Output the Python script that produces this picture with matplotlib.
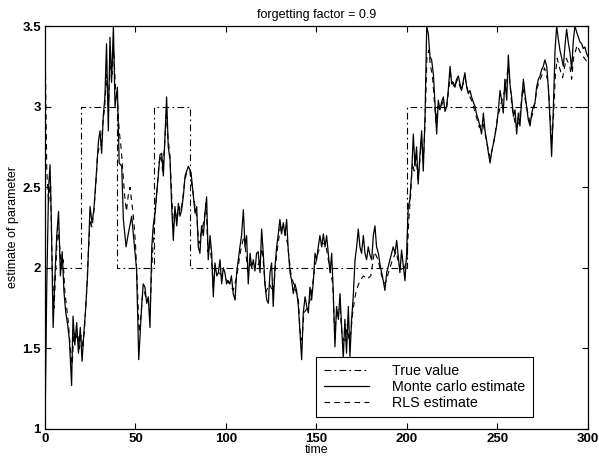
import matplotlib
matplotlib.use("Agg")
import matplotlib.pyplot as plt

plt.rcParams['font.family'] = ['Liberation Sans', 'DejaVu Sans']

# True parameter (step function)
true_t = [0, 20, 20, 40, 40, 60, 60, 80, 80, 200, 200, 300]
true_v = [2, 2, 3, 3, 2, 2, 3, 3, 2, 2, 3, 3]

# Monte carlo estimate
mc_t = [0, 1, 2, 2.8, 3.5, 4.5, 5.5, 6.5, 7.5, 8.5, 9.5, 10.5, 11.5, 12.5, 13.5, 14.7, 15.5, 16.5,
        17.5, 18.5, 19.5, 20.5, 21.5, 22.5, 23.5, 24.9, 26, 27, 28.5, 29.5, 30.4, 31.3, 32.2, 33.1,
        34, 35, 35.9, 36.8, 37.8, 38.7, 40, 41, 42.4, 43.3, 44.8, 46, 47.9, 48.8, 50.6, 51.8, 53.4,
        54.3, 55.2, 56.2, 57.1, 58, 59, 59.8, 60.8, 61.7, 62.6, 63.5, 64.5, 65.4, 66.3, 67.2, 68.1,
        69.1, 70, 70.9, 71.8, 72.8, 73.7, 74.6, 75.5, 76.5, 77.4, 78.3, 79.2, 80.7, 82, 82.9, 83.8,
        84.7, 85.6, 86.5, 87.5, 88.4, 89.3, 90.2, 91.2, 92.1, 93, 93.9, 94.9, 95.8, 96.7, 97.6, 98.5,
        99.4, 100.3, 101.3, 102.2, 103, 104, 105, 105.9, 106.8, 107.7, 108.6, 109.6, 110.5, 111.4,
        112.3, 113.3, 114.2, 115.1, 116, 116.9, 117.8, 118.8, 119.7, 120.6, 121.5, 122.5, 123.4,
        124.3, 125.2, 126.1, 127.1, 128, 128.9, 129.8, 130.7, 131.7, 132.6, 133.5, 134.4, 135.4,
        136.3, 137.2, 138.1, 139, 140, 140.9, 141.8, 142.7, 143.7, 144.6, 145.5, 146.4, 147.3, 148.3,
        149.2, 150.1, 151, 151.9, 152.9, 153.8, 154.7, 155.6, 156.5, 157.5, 158.4, 159.3, 160.2,
        161.1, 162.1, 163, 163.9, 164.8, 165.7, 166.6, 167.6, 168.5, 169.4, 170.3, 171.3, 172.2,
        173.1, 174, 174.9, 175.9, 176.8, 177.7, 178.6, 179.5, 180.5, 181.4, 182.3, 183.2, 184.2,
        185.1, 186, 186.9, 187.8, 188.8, 189.7, 190.6, 191.5, 192.4, 193.4, 194.3, 195.2, 196.1,
        197, 198, 198.9, 199.8, 200.7, 201.6, 202.6, 203.5, 204.4, 205.3, 206.2, 207.2, 208.1, 209,
        210, 210.9, 211.8, 212.7, 213.6, 214.6, 215.5, 216.4, 217.3, 218.2, 219.2, 220.1, 221, 221.9,
        222.8, 223.8, 224.7, 225.6, 226.5, 227.4, 228.4, 229.3, 230.2, 231.1, 232, 233, 233.9, 234.8,
        235.7, 236.6, 237.6, 238.5, 239.4, 240.3, 241.2, 242.2, 243.1, 244, 244.9, 245.9, 246.8,
        247.7, 248.6, 249.5, 250.5, 251.4, 252.3, 253.2, 254.1, 255.1, 256, 256.9, 257.8, 258.8,
        259.7, 260.6, 261.5, 262.4, 263.4, 264.3, 265.2, 266.1, 267, 268, 268.9, 269.8, 270.7, 271.6,
        272.6, 273.5, 274.4, 275.3, 276.2, 277.2, 278.1, 279, 279.9, 280.9, 281.8, 282.7, 283.6,
        284.5, 285.5, 286.4, 287.3, 288.2, 289.1, 290.1, 291, 291.9, 292.8, 293.8, 294.7, 295.6,
        296.5, 297.4, 298.3, 299.2, 300]
mc_v = [1.0, 1.9, 2.5, 2.64, 2.3, 1.63, 1.95, 2.2, 2.35, 1.95, 2.1, 1.85, 1.72, 1.65, 1.55, 1.27, 1.70,
        1.52, 1.66, 1.47, 1.63, 1.42, 1.6, 1.75, 1.95, 2.38, 2.28, 2.36, 2.6, 2.78, 2.85, 2.71, 2.94,
        3.06, 3.39, 2.85, 3.43, 3.15, 3.5, 3.0, 3.12, 2.65, 2.63, 2.3, 2.13, 2.21, 2.32, 2.21, 1.99,
        1.43, 1.76, 1.9, 1.88, 1.78, 1.82, 1.63, 2.13, 2.26, 2.34, 2.46, 2.57, 2.7, 2.71, 2.57, 2.81,
        3.06, 2.75, 2.67, 2.38, 2.17, 2.38, 2.26, 2.40, 2.32, 2.36, 2.45, 2.57, 2.6, 2.63, 2.59, 2.44,
        2.34, 2.38, 2.13, 2.09, 2.26, 2.2, 2.34, 2.44, 2.05, 2.2, 2.09, 1.82, 2.03, 1.95, 1.97, 2.05,
        1.9, 2.0, 1.97, 1.9, 1.92, 1.9, 1.95, 1.84, 1.8, 1.97, 2.05, 2.13, 2.2, 2.36, 2.13, 2.2, 1.9,
        2.09, 2.0, 2.05, 1.98, 2.09, 2.1, 1.97, 2.24, 2.09, 1.9, 1.8, 1.78, 1.97, 2.03, 1.76, 2.01,
        2.13, 2.21, 2.3, 2.21, 2.28, 2.2, 2.3, 2.11, 1.97, 1.92, 1.84, 1.9, 1.86, 1.76, 1.6, 1.43,
        1.72, 1.82, 1.76, 1.72, 1.88, 1.8, 1.92, 2.09, 2.05, 2.13, 2.2, 2.13, 2.21, 2.13, 2.2, 2.09,
        1.97, 2.09, 1.84, 1.51, 1.76, 1.68, 1.84, 1.63, 1.44, 1.68, 1.47, 1.76, 1.45, 1.68, 1.82,
        2.05, 2.13, 2.24, 2.13, 2.09, 2.2, 2.09, 2.05, 2.13, 2.08, 2.05, 2.2, 2.26, 2.13, 2.09, 2.02,
        1.97, 1.92, 1.86, 1.97, 2.01, 2.05, 2.09, 2.13, 2.09, 2.17, 2.07, 1.97, 2.11, 2.01, 1.92,
        2.09, 2.38, 2.42, 2.59, 2.83, 2.63, 2.75, 2.52, 2.71, 2.85, 2.6, 2.95, 3.5, 3.45, 3.31, 3.29,
        3.2, 3.02, 2.83, 3.04, 2.98, 3.03, 3.06, 2.97, 3.0, 3.1, 3.25, 3.14, 3.15, 3.12, 3.17, 3.19,
        3.14, 3.1, 3.16, 3.21, 3.12, 3.08, 3.1, 3.06, 3.03, 3.0, 2.95, 2.92, 2.88, 2.83, 2.96, 2.85,
        2.79, 2.72, 2.65, 2.72, 2.77, 2.82, 2.88, 2.98, 3.1, 3.04, 2.96, 3.17, 3.04, 3.32, 3.14, 3.06,
        2.94, 2.98, 2.83, 2.96, 2.88, 3.04, 3.17, 3.08, 3.0, 2.92, 2.88, 2.96, 3.0, 3.02, 3.12, 3.17,
        3.19, 3.23, 3.25, 3.29, 3.25, 3.12, 2.92, 2.69, 3.0, 3.35, 3.5, 3.42, 3.35, 3.3, 3.25, 3.38,
        3.48, 3.4, 3.33, 3.23, 3.41, 3.5, 3.46, 3.43, 3.4, 3.39, 3.36, 3.37, 3.33, 3.31]

# RLS estimate
rls_t = [0, 1, 2, 3, 4, 5, 6, 7, 8, 9, 10, 11, 12, 13, 14, 15, 16, 17, 18, 19, 20, 21, 22, 23, 24,
         25, 26, 27, 28, 29, 30, 31, 32, 33, 34, 35, 36, 37, 38, 39, 40, 41, 42, 43, 44, 45, 46, 47,
         48, 49, 50, 51, 52, 53, 54, 55, 56, 57, 58, 59, 60, 61, 62, 63, 64, 65, 66, 67, 68, 69, 70,
         71, 72, 73, 74, 75, 76, 77, 78, 79, 80, 82, 84, 85, 86, 88, 89, 90, 91, 92, 93, 94, 96, 98,
         100, 102, 104, 106, 108, 110, 112, 114, 116, 118, 120, 122, 124, 126, 128, 130, 132, 134,
         136, 138, 140, 141, 142, 143, 145, 147, 149, 151, 153, 155, 157, 159, 160, 161, 163, 164,
         165, 166, 167, 168, 169, 170, 171, 172, 174, 176, 178, 180, 182, 184, 186, 188, 190, 192,
         194, 196, 198, 200, 201, 202, 203, 204, 205, 206, 207, 208, 209, 210, 211, 212, 213, 214,
         215, 216, 217, 218, 220, 222, 224, 226, 228, 230, 232, 234, 236, 238, 240, 242, 244, 246,
         248, 250, 252, 254, 256, 258, 260, 262, 264, 266, 268, 270, 272, 274, 276, 278, 279, 280,
         281, 282, 283, 284, 286, 288, 290, 291, 292, 294, 296, 298, 300]
rls_v = [3.45, 2.6, 2.4, 2.55, 2.0, 1.75, 2.0, 2.25, 2.15, 2.0, 2.05, 1.85, 1.75, 1.65, 1.5, 1.4,
         1.6, 1.55, 1.6, 1.5, 1.58, 1.5, 1.65, 1.85, 2.1, 2.3, 2.25, 2.35, 2.5, 2.7, 2.75, 2.75, 2.9,
         3.0, 3.2, 3.0, 3.25, 3.2, 3.35, 3.1, 3.05, 2.85, 2.75, 2.6, 2.45, 2.35, 2.45, 2.5, 2.4, 2.3,
         2.15, 1.9, 1.6, 1.7, 1.85, 1.85, 1.8, 1.8, 1.7, 2.0, 2.2, 2.35, 2.5, 2.65, 2.7, 2.6, 2.75,
         2.95, 2.8, 2.7, 2.45, 2.25, 2.35, 2.3, 2.38, 2.35, 2.42, 2.52, 2.58, 2.6, 2.6, 2.45, 2.3,
         2.15, 2.2, 2.3, 2.4, 2.1, 2.15, 2.05, 1.88, 2.0, 1.97, 1.95, 1.93, 1.9, 1.86, 1.95, 2.1, 2.2,
         1.98, 2.03, 2.03, 2.02, 2.12, 1.85, 1.9, 1.85, 2.08, 2.25, 2.25, 2.15, 1.95, 1.88, 1.8, 1.6,
         1.55, 1.72, 1.75, 1.82, 2.0, 2.1, 2.15, 2.15, 2.02, 1.9, 1.6, 1.7, 1.75, 1.6, 1.55, 1.55,
         1.65, 1.55, 1.6, 1.72, 1.8, 1.86, 1.92, 1.95, 1.93, 1.95, 2.1, 2.05, 1.95, 1.9, 1.98, 2.05,
         2.1, 2.0, 1.98, 2.05, 2.3, 2.45, 2.65, 2.6, 2.7, 2.55, 2.65, 2.8, 2.65, 2.9, 3.3, 3.35, 3.25,
         3.2, 3.05, 2.9, 3.0, 2.98, 3.03, 3.0, 3.2, 3.12, 3.17, 3.1, 3.18, 3.08, 3.03, 2.95, 2.87, 2.9,
         2.78, 2.68, 2.78, 2.93, 3.02, 3.1, 3.25, 3.0, 2.88, 2.9, 3.12, 3.0, 2.9, 2.98, 3.12, 3.18,
         3.24, 3.15, 2.95, 2.78, 2.95, 3.2, 3.3, 3.25, 3.18, 3.3, 3.25, 3.17, 3.3, 3.38, 3.33, 3.3,
         3.27]

x_ticks = [0, 50, 100, 150, 200, 250, 300]
y_ticks = [1, 1.5, 2, 2.5, 3, 3.5]
y_tick_labels = ['1', '1.5', '2', '2.5', '3', '3.5']

fig = plt.figure(figsize=(5.99, 4.57), dpi=100)
ax = fig.add_axes([0.0751, 0.0613, 0.9065, 0.8818])

ax.plot(true_t, true_v, color='black', linestyle=(0, (6, 3, 1.5, 3)), linewidth=0.8,
        label='True value')
ax.plot(mc_t, mc_v, color='black', linestyle='-', linewidth=0.9, label='Monte carlo estimate')
ax.plot(rls_t, rls_v, color='black', linestyle=(0, (5, 4)), linewidth=0.8, label='RLS estimate')

ax.set_xlim(0, 300)
ax.set_ylim(1, 3.5)
ax.set_xticks(x_ticks)
ax.set_yticks(y_ticks)
ax.set_yticklabels(y_tick_labels)
ax.tick_params(direction='in', top=True, right=True, labelsize=9.5, length=4, width=0.8, pad=3)
for lbl in ax.get_xticklabels() + ax.get_yticklabels():
    lbl.set_fontweight('bold')
for s in ax.spines.values():
    s.set_linewidth(0.9)

ax.set_title('forgetting factor = 0.9', fontsize=9, pad=6)
ax.set_xlabel('time', fontsize=9, labelpad=-1)
ax.set_ylabel('estimate of parameter', fontsize=9, labelpad=2)

leg = ax.legend(loc='lower left', bbox_to_anchor=(0.5, 0.03), fontsize=10.3, frameon=True,
                fancybox=False, edgecolor='black', framealpha=1, borderpad=0.5,
                labelspacing=0.12, handlelength=3.2, handletextpad=1.6, borderaxespad=0)
leg.get_frame().set_linewidth(0.8)

fig.savefig('out.png', dpi=100)
